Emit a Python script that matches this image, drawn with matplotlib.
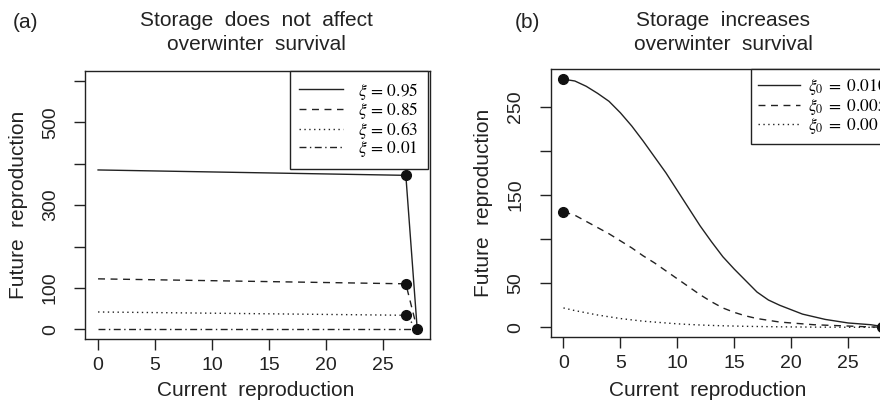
import matplotlib
matplotlib.use('Agg')
import matplotlib.pyplot as plt
from matplotlib.lines import Line2D

plt.rcParams['font.family'] = ['Liberation Sans', 'DejaVu Sans']
plt.rcParams['mathtext.fontset'] = 'stix'

INK = '#222222'

# ---------------- Panel (a) data ----------------
a_x = [0, 27, 28]
a_solid = [385, 372, 0]
a_dashed = [122, 110, 0]
a_dotted = [42, 34, 0]
a_dashdot = [0, 0, 0]
a_pts_x = [27, 27, 27, 28]
a_pts_y = [372, 110, 34, 0]
a_labels = [r'$\xi\,=\,0.95$', r'$\xi\,=\,0.85$', r'$\xi\,=\,0.63$', r'$\xi\,=\,0.01$']
a_yticks = [0, 100, 200, 300, 400, 500, 600]
a_yticklabels = ['0', '100', '', '300', '', '500', '']

# ---------------- Panel (b) data ----------------
b_x = list(range(29))
b_solid = [281, 279, 273, 265, 256, 243, 228, 211, 193, 175, 155, 135, 115, 97, 80,
           66, 53, 40, 31, 25, 20, 15, 12, 9, 7, 5, 4, 3, 1]
b_dashed = [131, 127, 120, 113, 106, 98, 90, 81, 73, 64, 55, 46, 37, 29, 22,
            17, 13, 10, 8, 6, 5, 4, 3, 2.5, 2, 1.5, 1, 0.5, 0.2]
b_dotted = [22, 19, 16.5, 14, 12, 10, 8.5, 7, 6, 5, 4, 3.3, 2.7, 2.2, 1.8,
            1.5, 1.2, 1.0, 0.8, 0.6, 0.5, 0.4, 0.3, 0.25, 0.2, 0.15, 0.1, 0.05, 0.0]
b_pts_x = [0, 0, 28]
b_pts_y = [281, 131, 0]
b_labels = [r'$\xi_0\;=\;0.010$', r'$\xi_0\;=\;0.005$', r'$\xi_0\;=\;0.001$']
b_yticks = [0, 50, 100, 150, 200, 250]
b_yticklabels = ['0', '50', '', '150', '', '250']
xticks = [0, 5, 10, 15, 20, 25]

W, H = 880, 403
fig = plt.figure(figsize=(W / 100, H / 100), dpi=100)

def px_axes(x0, y0, x1, y1):
    return [x0 / W, 1 - y1 / H, (x1 - x0) / W, (y1 - y0) / H]

ax1 = fig.add_axes(px_axes(85.3, 71, 430, 339.3))
ax2 = fig.add_axes(px_axes(550.7, 69.3, 895, 337.3))

DASH = (0, (5, 4))
DOT = (0, (1, 2.5))
DASHDOT = (0, (5, 2.5, 1, 2.5))
lw = 1.0

ax1.plot(a_x, a_solid, color=INK, lw=lw, ls='-')
ax1.plot(a_x, a_dashed, color=INK, lw=lw, ls=DASH)
ax1.plot(a_x, a_dotted, color=INK, lw=lw, ls=DOT)
ax1.plot(a_x, a_dashdot, color=INK, lw=lw, ls=DASHDOT)
ax1.plot(a_pts_x, a_pts_y, 'o', color='#111111', ms=7, ls='none')
ax1.set_xlim(-1.12, 29.12)
ax1.set_ylim(-24, 624)
ax1.set_yticks(a_yticks)
ax1.set_yticklabels(a_yticklabels)

ax2.plot(b_x, b_solid, color=INK, lw=lw, ls='-')
ax2.plot(b_x, b_dashed, color=INK, lw=lw, ls=DASH)
ax2.plot(b_x, b_dotted, color=INK, lw=lw, ls=DOT)
ax2.plot(b_pts_x, b_pts_y, 'o', color='#111111', ms=7, ls='none', clip_on=False)
ax2.set_xlim(-1.12, 29.12)
ax2.set_ylim(-11.24, 292.24)
ax2.set_yticks(b_yticks)
ax2.set_yticklabels(b_yticklabels)

for ax in (ax1, ax2):
    ax.set_xticks(xticks)
    ax.set_xticklabels([str(t) for t in xticks])
    ax.tick_params(direction='out', length=8, width=1, colors=INK, labelsize=14)
    ax.tick_params(axis='y', pad=11)
    ax.tick_params(axis='x', pad=5)
    for lab in ax.get_yticklabels():
        lab.set_rotation(90)
        lab.set_va('center')
    for s in ax.spines.values():
        s.set_color(INK)
        s.set_linewidth(1.0)

def make_handles(styles):
    return [Line2D([0], [0], color=INK, lw=lw, ls=s) for s in styles]

leg1 = ax1.legend(make_handles(['-', DASH, DOT, DASHDOT]), a_labels,
                  loc='upper right', bbox_to_anchor=(0.995, 1.0), borderaxespad=0,
                  fancybox=False, edgecolor=INK, framealpha=1, fontsize=12.5,
                  handlelength=2.5, handletextpad=0.9, labelspacing=-0.08,
                  borderpad=0.55)
leg1.get_frame().set_linewidth(1.0)

leg2 = ax2.legend(make_handles(['-', DASH, DOT]), b_labels,
                  loc='upper right', bbox_to_anchor=(1.0, 1.0), borderaxespad=0,
                  fancybox=False, edgecolor=INK, framealpha=1, fontsize=12.5,
                  handlelength=2.4, handletextpad=0.45, labelspacing=-0.06,
                  borderpad=0.45)
leg2.get_frame().set_linewidth(1.0)

tfs = 15
fig.text(256 / W, 1 - 21 / H, 'Storage  does  not  affect', ha='center', va='center', fontsize=tfs, color=INK)
fig.text(256 / W, 1 - 44 / H, 'overwinter  survival', ha='center', va='center', fontsize=tfs, color=INK)
fig.text(723 / W, 1 - 21 / H, 'Storage  increases', ha='center', va='center', fontsize=tfs, color=INK)
fig.text(723 / W, 1 - 44 / H, 'overwinter  survival', ha='center', va='center', fontsize=tfs, color=INK)
fig.text(13 / W, 1 - 22 / H, '(a)', ha='left', va='center', fontsize=tfs, color=INK)
fig.text(515 / W, 1 - 22 / H, '(b)', ha='left', va='center', fontsize=tfs, color=INK)

fig.text(256 / W, 1 - 390 / H, 'Current  reproduction', ha='center', va='center', fontsize=tfs, color=INK)
fig.text(708 / W, 1 - 390 / H, 'Current  reproduction', ha='center', va='center', fontsize=tfs, color=INK)
fig.text(18 / W, 1 - 205 / H, 'Future  reproduction', ha='center', va='center', rotation=90, fontsize=tfs, color=INK)
fig.text(483 / W, 1 - 203 / H, 'Future  reproduction', ha='center', va='center', rotation=90, fontsize=tfs, color=INK)

fig.savefig('out.png', dpi=100)
